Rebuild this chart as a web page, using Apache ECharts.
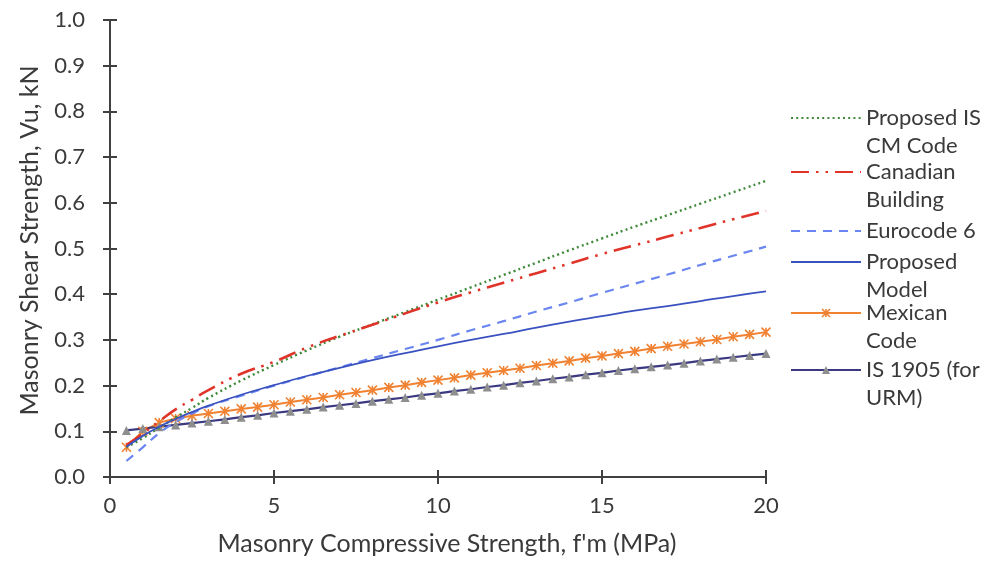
<!DOCTYPE html>
<html>
<head>
<meta charset="utf-8">
<script src="https://cdn.jsdelivr.net/npm/echarts/dist/echarts.min.js"></script>
<style>
  html, body { margin: 0; padding: 0; background: #ffffff; }
  #chart { width: 986px; height: 567px; }
</style>
</head>
<body>
<div id="chart"></div>
<script>
// Compressive strength f'm (MPa) for the smooth model curves
const fmCurve = [0.5, 1, 1.5, 2, 2.5, 3, 4, 5, 6, 7, 8, 9, 10, 11, 12, 13, 14, 15, 16, 17, 18, 19, 20];
// Compressive strength f'm (MPa) for the marked code curves
const fmMarked = [0.5, 1, 1.5, 2, 2.5, 3, 3.5, 4, 4.5, 5, 5.5, 6, 6.5, 7, 7.5, 8, 8.5, 9, 9.5, 10,
                  10.5, 11, 11.5, 12, 12.5, 13, 13.5, 14, 14.5, 15, 15.5, 16, 16.5, 17, 17.5, 18, 18.5, 19, 19.5, 20];

// Shear strength Vu (kN)
const proposedIS = [0.065, 0.085, 0.108, 0.130, 0.151, 0.173, 0.211, 0.245, 0.277, 0.307, 0.334, 0.361, 0.388,
                    0.415, 0.442, 0.469, 0.496, 0.522, 0.548, 0.573, 0.598, 0.623, 0.648];
const canadian   = [0.070, 0.095, 0.122, 0.148, 0.169, 0.190, 0.226, 0.252, 0.283, 0.309, 0.333, 0.358, 0.382,
                    0.404, 0.425, 0.446, 0.467, 0.488, 0.507, 0.526, 0.545, 0.564, 0.582];
const eurocode6  = [0.035, 0.065, 0.096, 0.120, 0.139, 0.155, 0.178, 0.200, 0.220, 0.240, 0.260, 0.280, 0.300,
                    0.321, 0.341, 0.362, 0.382, 0.403, 0.423, 0.443, 0.464, 0.484, 0.504];
const proposedModel = [0.066, 0.090, 0.110, 0.127, 0.142, 0.156, 0.180, 0.201, 0.221, 0.239, 0.256, 0.271, 0.286,
                       0.300, 0.313, 0.327, 0.340, 0.352, 0.364, 0.374, 0.385, 0.396, 0.406];
const mexican = [0.065, 0.100, 0.119, 0.128, 0.134, 0.139, 0.144, 0.149, 0.153, 0.158,
                 0.164, 0.169, 0.174, 0.180, 0.185, 0.190, 0.196, 0.201, 0.207, 0.212,
                 0.217, 0.223, 0.228, 0.233, 0.238, 0.244, 0.249, 0.254, 0.260, 0.265,
                 0.270, 0.275, 0.281, 0.286, 0.291, 0.296, 0.301, 0.307, 0.312, 0.317];
const is1905 = [0.102, 0.106, 0.110, 0.114, 0.118, 0.122, 0.126, 0.131, 0.135, 0.140,
                0.144, 0.148, 0.153, 0.157, 0.161, 0.166, 0.170, 0.174, 0.179, 0.183,
                0.188, 0.192, 0.197, 0.201, 0.206, 0.210, 0.215, 0.219, 0.224, 0.228,
                0.233, 0.237, 0.241, 0.245, 0.249, 0.254, 0.258, 0.262, 0.266, 0.270];

const seriesNames = ['Proposed IS CM Code', 'Canadian Building', 'Eurocode 6',
                     'Proposed Model', 'Mexican Code', 'IS 1905 (for URM)'];
const legendLines = [['Proposed IS', 'CM Code'], ['Canadian', 'Building'], ['Eurocode 6'],
                     ['Proposed', 'Model'], ['Mexican', 'Code'], ['IS 1905 (for', 'URM)']];

const xTitle = "Masonry Compressive Strength, f'm (MPa)";
const yTitle = 'Masonry Shear Strength, Vu, kN';

const FONT = 'Lato, "Open Sans", sans-serif';
const TEXT = '#3a3a3a';
const AXIS = '#404040';

const C_GREEN = '#3F8A3A', C_RED = '#E0342A', C_DASH = '#6A86F0', C_BLUE = '#3A52C0';
const C_ORANGE = '#F08232', C_NAVY = '#3B3A80', C_GREY = '#8E8E8E';

const pairs = (xs, ys) => xs.map((x, i) => [x, ys[i]]);

// asterisk-style marker: a cross with a vertical stroke
const starPath = 'path://M0,0L10,10M10,0L0,10M5,0L5,10';
const starStyle = { color: C_ORANGE, borderColor: C_ORANGE, borderWidth: 1.6 };
const triStyle = { color: C_GREY, borderWidth: 0 };

const chart = echarts.init(document.getElementById('chart'), null, { renderer: 'canvas' });

// one legend block per series; the sample line sits level with the first text line
const legendCenters = [118, 172, 231, 262, 313, 370];
const legendMarks = [{ opacity: 0 }, { opacity: 0 }, { opacity: 0 }, { opacity: 0 }, starStyle, triStyle];
const LH = 28;
const legends = seriesNames.map((name, i) => {
  const lines = legendLines[i];
  const two = lines.length > 1;
  return {
    data: [name],
    left: 790,
    top: two ? legendCenters[i] - 1.5 * LH : legendCenters[i] - LH / 2,
    padding: 0,
    itemWidth: 70,
    itemHeight: 10,
    selectedMode: false,
    formatter: () => (two ? '\n' : '') + lines.join('\n'),
    itemStyle: legendMarks[i],
    textStyle: { fontFamily: FONT, fontSize: 22, color: TEXT, lineHeight: LH }
  };
});

const tickLabel = { fontFamily: FONT, fontSize: 22, color: TEXT };
const titleStyle = { fontFamily: FONT, fontSize: 25, color: TEXT };

const option = {
  backgroundColor: '#ffffff',
  animation: false,
  grid: { left: 110, right: 220, top: 20, bottom: 90, containLabel: false },
  legend: legends,
  xAxis: [
    {
      type: 'value', min: 0, max: 20, interval: 5,
      name: xTitle, nameLocation: 'middle', nameGap: 54,
      nameTextStyle: Object.assign({ padding: [0, 0, 0, 18] }, titleStyle),
      axisLine: { show: true, lineStyle: { color: AXIS, width: 2 } },
      axisTick: { show: true, length: 7, lineStyle: { color: AXIS, width: 2 } },
      axisLabel: Object.assign({ margin: 18 }, tickLabel),
      splitLine: { show: false }
    },
    {
      type: 'value', min: 0, max: 20, interval: 5, position: 'bottom',
      axisLine: { show: false },
      axisTick: { show: true, inside: true, length: 7, lineStyle: { color: AXIS, width: 2 } },
      axisLabel: { show: false },
      splitLine: { show: false }
    }
  ],
  yAxis: [
    {
      type: 'value', min: 0, max: 1, interval: 0.1,
      name: yTitle, nameLocation: 'middle', nameGap: 68, nameRotate: 90,
      nameTextStyle: Object.assign({ padding: [0, 0, 0, 16] }, titleStyle),
      axisLine: { show: true, lineStyle: { color: AXIS, width: 2 } },
      axisTick: { show: true, length: 7, lineStyle: { color: AXIS, width: 2 } },
      axisLabel: Object.assign({ margin: 25, formatter: v => v.toFixed(1) }, tickLabel),
      splitLine: { show: false }
    },
    {
      type: 'value', min: 0, max: 1, interval: 0.1, position: 'left',
      axisLine: { show: false },
      axisTick: { show: true, inside: true, length: 7, lineStyle: { color: AXIS, width: 2 } },
      axisLabel: { show: false },
      splitLine: { show: false }
    }
  ],
  series: [
    {
      name: seriesNames[0], type: 'line', smooth: true, symbol: 'none',
      data: pairs(fmCurve, proposedIS),
      lineStyle: { color: C_GREEN, width: 2.4, type: [2, 3.2] },
      itemStyle: { color: C_GREEN }, z: 3
    },
    {
      name: seriesNames[1], type: 'line', smooth: true, symbol: 'none',
      data: pairs(fmCurve, canadian),
      lineStyle: { color: C_RED, width: 2.6, type: [18, 7, 2.5, 7, 2.5, 7] },
      itemStyle: { color: C_RED }, z: 3
    },
    {
      name: seriesNames[2], type: 'line', smooth: true, symbol: 'none',
      data: pairs(fmCurve, eurocode6),
      lineStyle: { color: C_DASH, width: 2.2, type: [9, 7] },
      itemStyle: { color: C_DASH }, z: 3
    },
    {
      name: seriesNames[3], type: 'line', smooth: true, symbol: 'none',
      data: pairs(fmCurve, proposedModel),
      lineStyle: { color: C_BLUE, width: 1.8, type: 'solid' },
      itemStyle: { color: C_BLUE }, z: 3
    },
    {
      name: seriesNames[4], type: 'line', smooth: false,
      symbol: starPath, symbolSize: 9, showAllSymbol: true,
      data: pairs(fmMarked, mexican),
      lineStyle: { color: C_ORANGE, width: 2 },
      itemStyle: starStyle, z: 2
    },
    {
      name: seriesNames[5], type: 'line', smooth: false,
      symbol: 'triangle', symbolSize: 9, showAllSymbol: true,
      data: pairs(fmMarked, is1905),
      lineStyle: { color: C_NAVY, width: 2.2 },
      itemStyle: triStyle, z: 2
    }
  ]
};

chart.setOption(option);
</script>
</body>
</html>
